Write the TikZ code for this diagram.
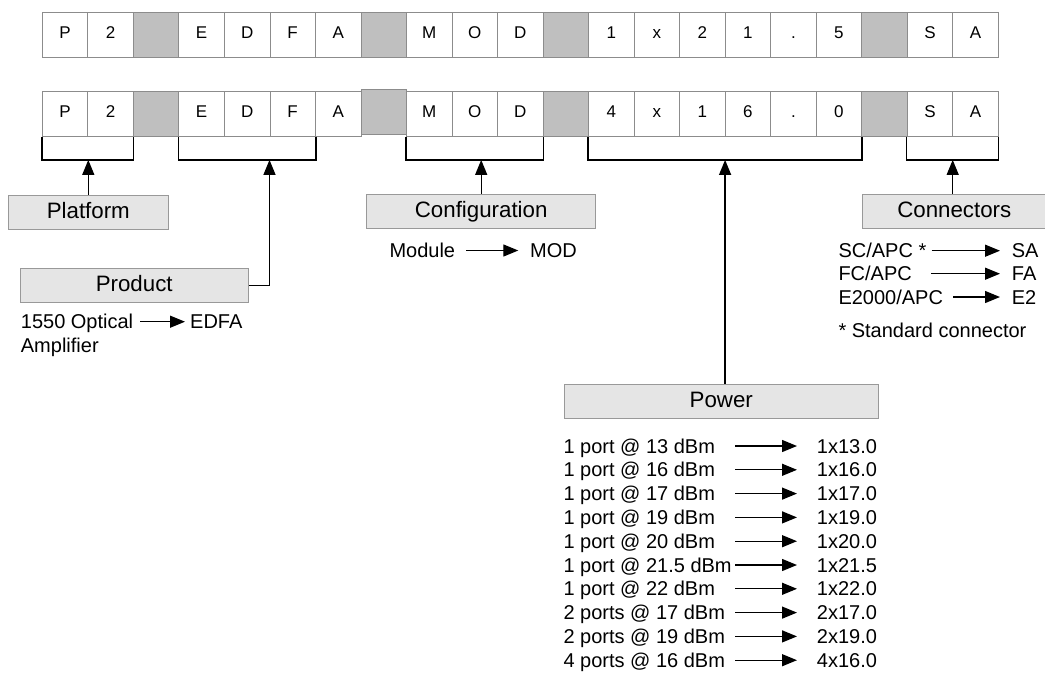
\documentclass[tikz,border=0pt]{standalone}
\usepackage{fontspec}
\setmainfont{Liberation Sans}
\usetikzlibrary{arrows.meta,calc}

\begin{document}
\begin{tikzpicture}[x=1pt,y=-1pt,
  cell/.style={draw=black!45,line width=0.8pt,minimum width=45.52pt,minimum height=45pt,inner sep=0pt,
    font=\fontsize{17}{20}\selectfont,text height=12.2pt,text depth=5pt},
  gcell/.style={cell,fill=black!25},
  box/.style={draw=black!40,fill=black!10,line width=0.8pt,inner sep=0pt,minimum height=34.3pt,
    font=\fontsize{22.3}{26}\selectfont,text height=16pt,text depth=3.3pt},
  txt/.style={anchor=west,inner sep=0pt,font=\fontsize{20}{24}\selectfont,text height=14.3pt,text depth=0pt},
  brk/.style={line width=1.4pt},
  arr/.style={line width=1.3pt,-{Triangle[width=12pt,length=15pt]}}]
\clip (0,0) rectangle (1045,673);

\foreach \i/\c in {0/P,1/2,3/E,4/D,5/F,6/A,8/M,9/O,10/D,12/1,13/x,14/2,15/1,16/.,17/5,19/S,20/A}
  \node[cell] (t\i) at ({65.06+45.52*\i},34.5) {\c};
\foreach \i/\c in {0/P,1/2,3/E,4/D,5/F,6/A,8/M,9/O,10/D,12/4,13/x,14/1,15/6,16/.,17/0,19/S,20/A}
  \node[cell] (b\i) at ({65.06+45.52*\i},113.7) {\c};
\foreach \i/\s in {2/0,7/1.4,11/0,18/0}{
  \node[gcell] (t\i) at ({65.06+45.52*\i},34.5) {};
  \node[gcell,yshift=\s pt] (b\i) at ({65.06+45.52*\i},113.7) {};
}

\foreach \a/\b/\n in {0/1/1,3/5/2,8/10/3,12/17/4,19/20/5}{
  \draw[brk] (b\a.south west) -- ++(0,23.3) -| (b\b.south east);
  \coordinate (k\n) at ($(b\a.south west)!.5!(b\b.south east)+(0,23.3)$);
}

\node[box,minimum width=160pt] (plat) at (88.3,212.2) {Platform};
\node[box,minimum width=228.3pt] (prod) at (134.2,285.3) {Product};
\node[box,minimum width=229pt] (conf) at (481.2,211.2) {Configuration};
\node[box,minimum width=184pt] (conn) at (954.3,211.2) {Connectors};
\node[box,minimum width=314pt] (pow) at (721.3,401.2) {Power};

\draw[arr] (plat.north) -- (plat.north |- k1);
\draw[arr] (prod.east) -| (b5.south west |- k2);
\draw[arr] (conf.north) -- (conf.north |- k3);
\draw[arr] (k4 |- pow.north) -- (k4);
\draw[arr] (k5 |- conn.north) -- (k5);

\node[txt] (opt) at (20.7,321.7) {1550 Optical};
\node[txt] (amp) at (20.7,345) {Amplifier};
\node[txt] (edfa) at (190,321.7) {EDFA};
\draw[arr,shorten <=7pt,shorten >=5pt] (opt.east) -- (edfa.west);

\node[txt] (modl) at (389.3,250.5) {Module};
\node[txt] (modv) at (530,250.5) {MOD};
\draw[arr,shorten <=10.8pt,shorten >=11.7pt] (modl.east) -- (modv.west);

\node[txt] (sc) at (838.3,250.7) {SC/APC *};
\node[txt] (fc) at (838.3,273.7) {FC/APC};
\node[txt] (e2k) at (838.3,297) {E2000/APC};
\node[txt] (sa) at (1011.7,250.7) {SA};
\node[txt] (fa) at (1011.7,273.7) {FA};
\node[txt] (e2) at (1011.7,297) {E2};
\node[txt] (std) at (838.3,330.7) {* Standard connector};
\draw[arr,shorten <=5pt,shorten >=11.7pt] (sc.east) -- (sa.west);
\draw[arr,shorten <=19.4pt,shorten >=11.7pt] (fc.east) -- (fa.west);
\draw[arr,shorten <=10pt,shorten >=11.7pt] (e2k.east) -- (e2.west);

\coordinate (pax) at (735,0);
\foreach \i/\p/\v in {1/{1 port @ 13 dBm}/1x13.0,2/{1 port @ 16 dBm}/1x16.0,3/{1 port @ 17 dBm}/1x17.0,
    4/{1 port @ 19 dBm}/1x19.0,5/{1 port @ 20 dBm}/1x20.0,6/{1 port @ 21.5 dBm}/1x21.5,
    7/{1 port @ 22 dBm}/1x22.0,8/{2 ports @ 17 dBm}/2x17.0,9/{2 ports @ 19 dBm}/2x19.0,
    10/{4 ports @ 16 dBm}/4x16.0}{
  \node[txt] (p\i) at (563.3,{446+23.8*(\i-1)}) {\p};
  \node[txt] (v\i) at (816.7,{446+23.8*(\i-1)}) {\v};
  \draw[arr,shorten >=19.7pt] (p\i -| pax) -- (v\i.west);
}
\end{tikzpicture}
\end{document}
